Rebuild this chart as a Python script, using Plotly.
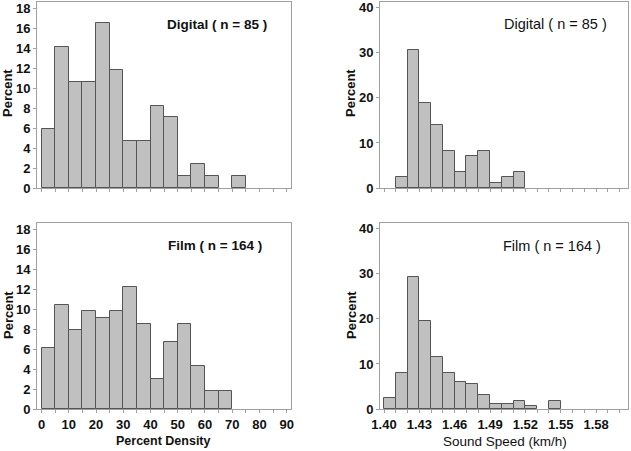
import plotly.graph_objects as go

W, H = 631, 451

# Percent density histograms (bin width 5, left edges)
density_bins = [0, 5, 10, 15, 20, 25, 30, 35, 40, 45, 50, 55, 60, 65, 70]
digital_density_pct = [5.9, 14.1, 10.6, 10.6, 16.5, 11.8, 4.7, 4.7, 8.2, 7.1, 1.2, 2.4, 1.2, 0.0, 1.2]
film_density_pct = [6.1, 10.4, 7.9, 9.8, 9.1, 9.8, 12.2, 8.5, 3.0, 6.7, 8.5, 4.3, 1.8, 1.8, 0.0]

# Sound speed histograms (bin width 0.01, left edges)
speed_bins = [1.40, 1.41, 1.42, 1.43, 1.44, 1.45, 1.46, 1.47, 1.48, 1.49, 1.50, 1.51, 1.52, 1.53, 1.54]
digital_speed_pct = [0.0, 2.4, 30.6, 18.8, 14.1, 8.2, 3.5, 7.1, 8.2, 1.2, 2.4, 3.5, 0.0, 0.0, 0.0]
film_speed_pct = [2.4, 7.9, 29.3, 19.5, 11.6, 7.9, 6.1, 5.5, 3.0, 1.2, 1.2, 1.8, 0.6, 0.0, 1.8]

density_ticks = [0, 10, 20, 30, 40, 50, 60, 70, 80, 90]
speed_ticks = [1.40, 1.43, 1.46, 1.49, 1.52, 1.55, 1.58]
speed_tick_labels = ["1.40", "1.43", "1.46", "1.49", "1.52", "1.55", "1.58"]

FONT = "Liberation Sans, Arial, sans-serif"
BAR_FILL = "#c0c0c0"
BAR_LINE = "#555555"
FRAME = "#a0a0a0"

def px(x):
    return x / W

def py(y):
    return 1 - y / H

fig = go.Figure()

def add_hist(bins, vals, width, xa, ya):
    pairs = [(b, v) for b, v in zip(bins, vals) if v > 0]
    fig.add_trace(go.Bar(
        x=[p[0] for p in pairs], y=[p[1] for p in pairs], width=width, offset=0,
        marker=dict(color=BAR_FILL, line=dict(color=BAR_LINE, width=1)),
        xaxis=xa, yaxis=ya, showlegend=False, hoverinfo="x+y"))

add_hist(density_bins, digital_density_pct, 5, "x", "y")
add_hist(speed_bins, digital_speed_pct, 0.01, "x2", "y2")
add_hist(density_bins, film_density_pct, 5, "x3", "y3")
add_hist(speed_bins, film_speed_pct, 0.01, "x4", "y4")

dom_left = [px(37), px(291)]
dom_right = [px(380), px(628)]
dom_top = [py(188), py(2)]
dom_bot = [py(409), py(223)]

tickfont = dict(family=FONT, size=13, color="#111111", weight="bold")

common_axis = dict(showline=True, linecolor=FRAME, linewidth=1, mirror=True,
                   showgrid=False, zeroline=False, ticks="outside",
                   tickcolor=FRAME, ticklen=3, tickfont=tickfont, automargin=False)

left_x = dict(common_axis, range=[-1.7, 91.6], tickvals=density_ticks,
              minor=dict(dtick=5, tick0=0, ticks="outside", ticklen=3, tickcolor=FRAME))
right_x = dict(common_axis, range=[1.3966, 1.6071], tickvals=speed_ticks,
               ticktext=speed_tick_labels,
               minor=dict(dtick=0.01, tick0=1.40, ticks="outside", ticklen=3, tickcolor=FRAME))
left_y = dict(common_axis, range=[0, 18.6], dtick=2, tick0=0)
right_y = dict(common_axis, range=[0, 41.3], dtick=10, tick0=0)

fig.update_layout(
    width=W, height=H,
    margin=dict(l=0, r=0, t=0, b=0),
    paper_bgcolor="white", plot_bgcolor="white",
    bargap=0,
    font=dict(family=FONT, color="#111111"),
    xaxis=dict(left_x, domain=dom_left, anchor="y", showticklabels=False),
    yaxis=dict(left_y, domain=dom_top, anchor="x"),
    xaxis2=dict(right_x, domain=dom_right, anchor="y2", showticklabels=False),
    yaxis2=dict(right_y, domain=dom_top, anchor="x2"),
    xaxis3=dict(left_x, domain=dom_left, anchor="y3"),
    yaxis3=dict(left_y, domain=dom_bot, anchor="x3"),
    xaxis4=dict(right_x, domain=dom_right, anchor="y4"),
    yaxis4=dict(right_y, domain=dom_bot, anchor="x4"),
)

def label(text, x, y, size=13, bold=True, angle=0):
    fig.add_annotation(
        text=text, x=px(x), y=py(y), xref="paper", yref="paper",
        showarrow=False, textangle=angle, xanchor="center", yanchor="middle",
        font=dict(family=FONT, size=size, color="#111111",
                  weight="bold" if bold else "normal"))

# panel labels
label("Digital ( n = 85 )", 217, 24, size=13.5, bold=True)
label("Film ( n = 164 )", 215, 246, size=13.5, bold=True)
label("Digital ( n = 85 )", 555, 24, size=14.5, bold=False)
label("Film ( n = 164 )", 552, 246, size=14.5, bold=False)

# axis titles
label("Percent", 8, 93, size=13, angle=-90)
label("Percent", 8, 315, size=13, angle=-90)
label("Percent", 351, 93, size=13, angle=-90)
label("Percent", 351, 315, size=13, angle=-90)
label("Percent Density", 163, 441, size=12.5, bold=True)
label("Sound Speed (km/h)", 505, 441, size=13.5, bold=False)

fig.write_html(
    "out.html",
    config={"displayModeBar": False},
    post_script="document.body.style.margin='0';document.body.style.overflow='hidden';",
)
